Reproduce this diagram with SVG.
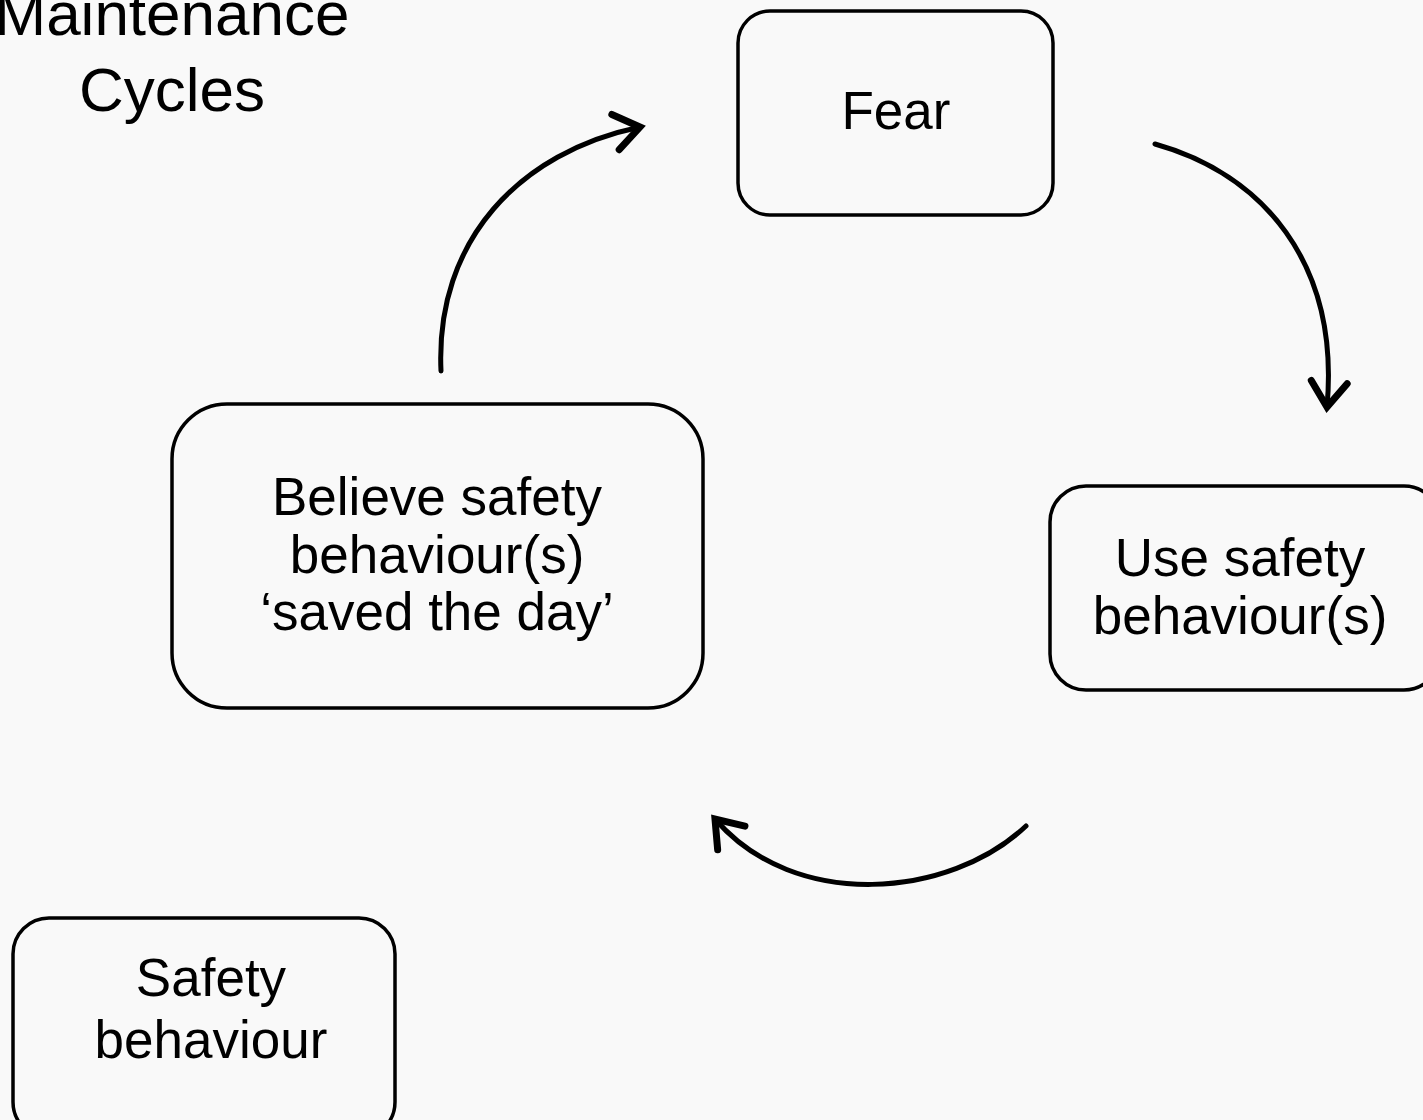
<svg xmlns="http://www.w3.org/2000/svg" width="1423" height="1120" viewBox="0 0 1423 1120">
<style>
.box{fill:none;stroke:#000;stroke-width:3.5}
.t{font-family:"Liberation Sans",Arial,sans-serif;font-size:53px;fill:#000;text-anchor:middle}
.arc{fill:none;stroke:#000;stroke-width:5;stroke-linecap:round}
</style>
<defs>
<marker id="ah" markerUnits="userSpaceOnUse" markerWidth="70" markerHeight="70" viewBox="-35 -35 70 70" refX="0" refY="0" orient="auto">
<polyline points="-25,-18 0,0 -25,18" fill="none" stroke="#000" stroke-width="7" stroke-linecap="round" stroke-linejoin="miter"/>
</marker>
</defs>
<rect width="1423" height="1120" fill="#f9f9f9"/>
<g id="title">
<text class="t" style="font-size:62px" x="172" y="35">Maintenance</text>
<text class="t" style="font-size:62px" x="172" y="111">Cycles</text>
</g>
<g id="fear">
<rect class="box" x="738" y="11" width="315" height="204" rx="32"/>
<text class="t" x="896" y="129">Fear</text>
</g>
<g id="use">
<rect class="box" x="1050" y="486" width="390" height="204" rx="36"/>
<text class="t" x="1240" y="576">Use safety</text>
<text class="t" x="1240" y="634">behaviour(s)</text>
</g>
<g id="believe">
<rect class="box" x="172" y="404" width="531" height="304" rx="55"/>
<text class="t" x="437" y="515">Believe safety</text>
<text class="t" x="437" y="573">behaviour(s)</text>
<text class="t" x="437" y="630">‘saved the day’</text>
</g>
<g id="safety">
<rect class="box" x="13" y="918" width="382" height="220" rx="36"/>
<text class="t" x="211" y="996">Safety</text>
<text class="t" x="211" y="1058">behaviour</text>
</g>
<g id="connectors">
<path class="arc" d="M441,371 C435,240 520,152 640,127" marker-end="url(#ah)"/>
<path class="arc" d="M1155,144 C1262,174 1340,262 1327,407" marker-end="url(#ah)"/>
<path class="arc" d="M1026,826 C950,898 795,912 715,819" marker-end="url(#ah)"/>
</g>
</svg>
